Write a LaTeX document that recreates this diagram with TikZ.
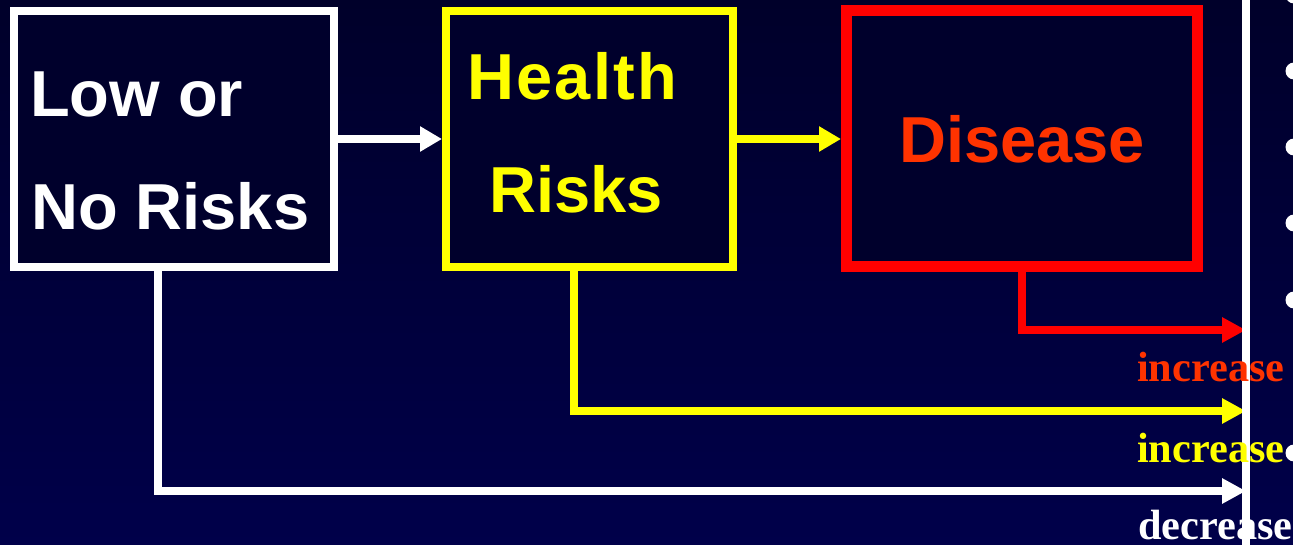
\documentclass[tikz,border=0pt]{standalone}
\usepackage{fontspec}
\setmainfont{Liberation Serif}
\newfontfamily\boxfont{Liberation Sans}
\usetikzlibrary{arrows.meta,positioning}
\definecolor{bgtop}{RGB}{0,0,42}
\definecolor{bgbot}{RGB}{0,0,74}
\definecolor{boxfill}{RGB}{0,0,44}
\definecolor{dyellow}{RGB}{255,255,0}
\definecolor{dred}{RGB}{255,0,0}
\definecolor{dorange}{RGB}{255,51,0}
\tikzset{
  riskbox/.style={rectangle, fill=boxfill, inner sep=0pt, line join=miter},
  boxtext/.style={anchor=base west, inner sep=0pt, font=\boxfont\bfseries\fontsize{65}{65}\selectfont},
  trendtext/.style={anchor=base west, inner sep=0pt, font=\bfseries\fontsize{42.3}{42.3}\selectfont},
  flow/.style={line width=8pt, line join=miter, -{Triangle[length=22pt,width=24pt]}},
  trend/.style={line width=8pt, line join=miter, -{Triangle[length=24pt,width=24pt]}},
  bulletdot/.style={fill=white}
}
\begin{document}
\begin{tikzpicture}[x=1pt,y=-1pt]
\shade[top color=bgtop, bottom color=bgbot] (0,0) rectangle (1293,545);
\useasboundingbox (0,0) rectangle (1293,545);
% boxes
\node[riskbox, draw=white, line width=8pt, minimum width=320pt, minimum height=256pt] (low) at (174,139) {};
\node[riskbox, draw=dyellow, line width=8pt, minimum width=287pt, minimum height=256pt] (health) at (589.5,139) {};
\node[riskbox, draw=dred, line width=11pt, minimum width=351pt, minimum height=256pt] (disease) at (1022,138.5) {};
% texts in boxes
\node[boxtext, text=white] (t1) at (30,117) {Low or};
\node[boxtext, text=white] (t2) at (31,230) {No Risks};
\node[boxtext, text=dyellow] (t3) at (467,100) {\addfontfeature{LetterSpace=3.5}Health};
\node[boxtext, text=dyellow] (t4) at (489,213) {Risks};
\node[boxtext, text=dorange] (t5) at (899,163) {Disease};
% end points of trend arrows
\coordinate (redend) at (1246,330);
\coordinate (yelend) at (1246,411);
\coordinate (whiend) at (1246,491);
% connectors
\draw[flow, white] (low.east) -- (health.west);
\draw[flow, dyellow] (health.east) -- (health.east -| disease.west);
\draw[trend, dred] (disease.south) |- (redend);
\draw[trend, dyellow] ([xshift=-15.5pt]health.south) |- (yelend);
\draw[trend, white] ([xshift=-16pt]low.south) |- (whiend);
% divider
\draw[white, line width=8pt] (1246,-5) -- (1246,550);
% bullets
\foreach \yy in {-5,71,147,223,300,453} \fill[bulletdot] (1294,\yy) circle (8.5pt);
% labels
\node[trendtext, text=dorange] (l1) at (1137,381) {increase};
\node[trendtext, text=dyellow] (l2) at (1137,462) {increase};
\node[trendtext, text=white] (l3) at (1138,539) {decrease};
\end{tikzpicture}
\end{document}
